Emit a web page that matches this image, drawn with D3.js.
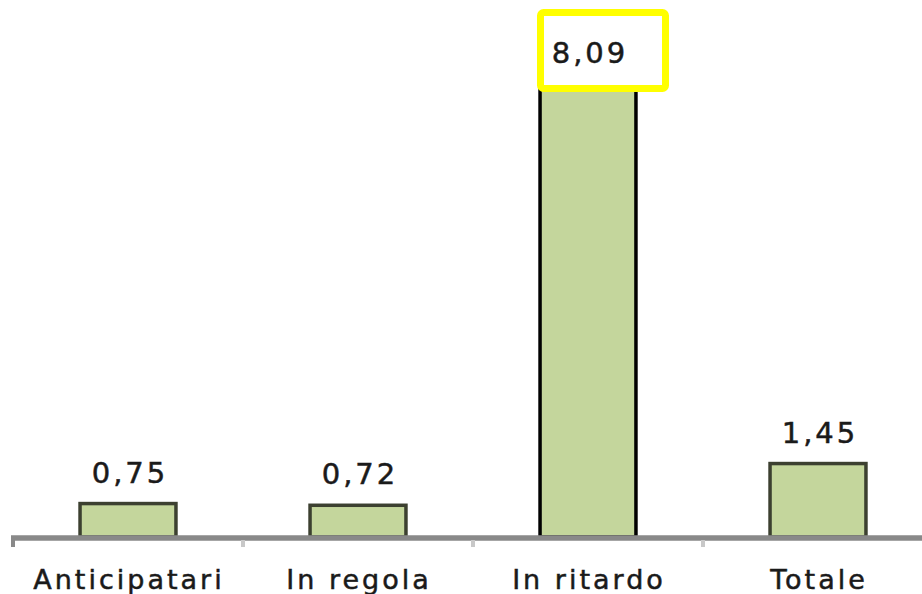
<!DOCTYPE html>
<html>
<head>
<meta charset="utf-8">
<script src="https://cdn.jsdelivr.net/npm/d3@7/dist/d3.min.js"></script>
<style>
  html, body { margin: 0; padding: 0; background: #ffffff; }
  svg { display: block; }
  text { font-family: "DejaVu Sans", Verdana, sans-serif; fill: #1a1a1a; stroke: #1a1a1a; stroke-width: 0.5px; }
</style>
</head>
<body>
<svg id="chart" width="922" height="594"></svg>
<script>
// Categories and their values
const categories = ["Anticipatari", "In regola", "In ritardo", "Totale"];
const values = [0.75, 0.72, 8.09, 1.45];
const valueLabels = ["0,75", "0,72", "8,09", "1,45"];
const highlighted = ["In ritardo"];

const svg = d3.select("#chart");

const baseline = 535;
const x = d3.scaleBand()
  .domain(categories)
  .range([13, 933])
  .paddingInner(0.583)
  .paddingOuter(0.2915);

const y = d3.scaleLinear()
  .domain([0.2, 8.09])
  .range([baseline, 84]);

const data = categories.map((c, i) => ({ cat: c, v: values[i], label: valueLabels[i] }));

// Bars
svg.append("g").selectAll("rect")
  .data(data)
  .join("rect")
  .attr("x", d => x(d.cat))
  .attr("y", d => y(d.v))
  .attr("width", x.bandwidth())
  .attr("height", d => baseline - y(d.v) + 2)
  .attr("fill", "#c4d69c")
  .attr("stroke", d => highlighted.includes(d.cat) ? "#000000" : "#3c4030")
  .attr("stroke-width", 3.5);

// Category axis
const axis = svg.append("g").attr("transform", `translate(0,${baseline + 3})`);
axis.append("line")
  .attr("x1", 11).attr("x2", 922)
  .attr("y1", 0).attr("y2", 0)
  .attr("stroke", "#898989")
  .attr("stroke-width", 5.5);
const tickXs = categories.map(c => x(c) - x.step() * x.paddingInner() / 2);
axis.selectAll("line.tick")
  .data(tickXs)
  .join("line")
  .attr("class", "tick")
  .attr("x1", d => d).attr("x2", d => d)
  .attr("y1", 2).attr("y2", 9)
  .attr("stroke", (d, i) => i === 0 ? "#898989" : "#c8c8c8")
  .attr("stroke-width", 4);

svg.append("g").selectAll("text")
  .data(categories)
  .join("text")
  .attr("x", d => x(d) + x.bandwidth() / 2 + 1)
  .attr("y", 589)
  .attr("text-anchor", "middle")
  .style("font-size", "27px")
  .style("letter-spacing", "3px")
  .text(d => d);

// Value labels
const labels = svg.append("g");
data.forEach(d => {
  const cx = x(d.cat) + x.bandwidth() / 2;
  const by = y(d.v) - 21;
  if (highlighted.includes(d.cat)) {
    labels.append("rect")
      .attr("x", cx - 47.5)
      .attr("y", by - 50.5)
      .attr("width", 125)
      .attr("height", 76)
      .attr("rx", 3)
      .attr("fill", "#ffffff")
      .attr("stroke", "#ffff00")
      .attr("stroke-width", 7);
  }
  labels.append("text")
    .attr("x", cx + 2)
    .attr("y", by)
    .attr("text-anchor", "middle")
    .style("font-size", "29px")
    .style("letter-spacing", "3px")
    .text(d.label);
});
</script>
</body>
</html>
